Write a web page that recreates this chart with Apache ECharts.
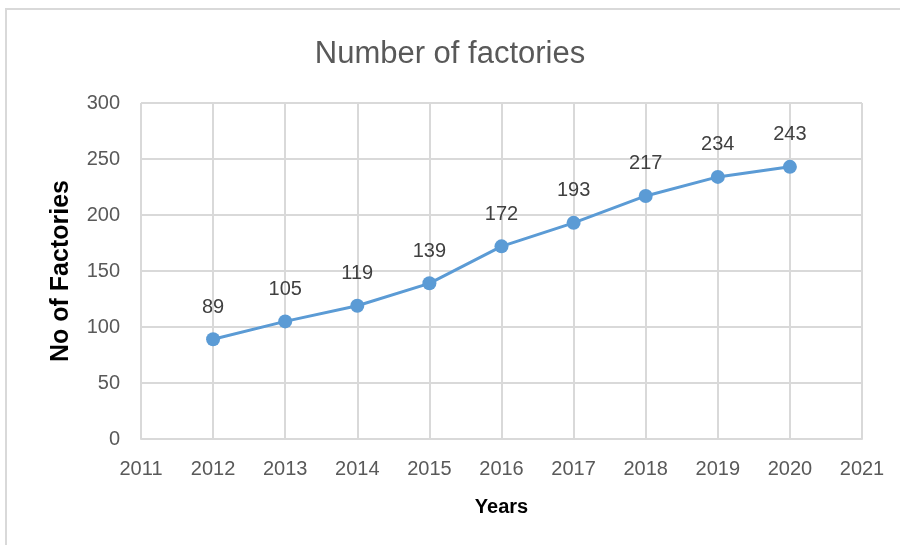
<!DOCTYPE html>
<html>
<head>
<meta charset="utf-8">
<script src="https://cdn.jsdelivr.net/npm/echarts@6/dist/echarts.min.js"></script>
<style>
  html, body { margin: 0; padding: 0; background: #fff; }
  #frame { position: absolute; left: 5px; top: 8px; width: 900px; height: 545px; border-left: 2px solid #d9d9d9; border-top: 2px solid #d9d9d9; box-sizing: border-box; }
  #chart { position: absolute; left: 0; top: 0; width: 900px; height: 545px; }
</style>
</head>
<body>
<div id="frame"></div>
<div id="chart"></div>
<script>
// Factory counts per year
const years = [2012, 2013, 2014, 2015, 2016, 2017, 2018, 2019, 2020];
const factories = [89, 105, 119, 139, 172, 193, 217, 234, 243];

const FONT = '"Liberation Sans", sans-serif';
const chart = echarts.init(document.getElementById('chart'), null, { renderer: 'canvas' });

chart.setOption({
  animation: false,
  backgroundColor: 'transparent',
  title: {
    text: 'Number of factories',
    left: 'center',
    top: 34,
    textStyle: { fontFamily: FONT, fontSize: 31, fontWeight: 'normal', color: '#595959' }
  },
  grid: { left: 141, right: 38, top: 103, bottom: 106 },
  xAxis: {
    type: 'value',
    min: 2011,
    max: 2021,
    interval: 1,
    name: 'Years',
    nameLocation: 'middle',
    nameGap: 58,
    nameTextStyle: { fontFamily: FONT, fontSize: 20, fontWeight: 'bold', color: '#000' },
    axisLine: { show: true, lineStyle: { color: '#d9d9d9', width: 2 } },
    axisTick: { show: false },
    splitLine: { show: true, lineStyle: { color: '#d9d9d9', width: 2 } },
    axisLabel: { fontFamily: FONT, fontSize: 20, color: '#595959', margin: 20, formatter: v => String(v) }
  },
  yAxis: {
    type: 'value',
    min: 0,
    max: 300,
    interval: 50,
    name: 'No of Factories',
    nameLocation: 'middle',
    nameGap: 67,
    nameTextStyle: { fontFamily: FONT, fontSize: 25, fontWeight: 'bold', color: '#000' },
    axisLine: { show: false },
    axisTick: { show: false },
    splitLine: { show: true, lineStyle: { color: '#d9d9d9', width: 2 } },
    axisLabel: { fontFamily: FONT, fontSize: 20, color: '#595959', margin: 21 }
  },
  series: [{
    type: 'line',
    data: years.map((y, i) => [y, factories[i]]),
    symbol: 'circle',
    symbolSize: 14,
    lineStyle: { color: '#5B9BD5', width: 3 },
    itemStyle: { color: '#5B9BD5' },
    label: {
      show: true,
      position: 'top',
      distance: 15,
      fontFamily: FONT,
      fontSize: 20,
      color: '#404040',
      formatter: p => String(p.value[1])
    }
  }]
});
</script>
</body>
</html>
